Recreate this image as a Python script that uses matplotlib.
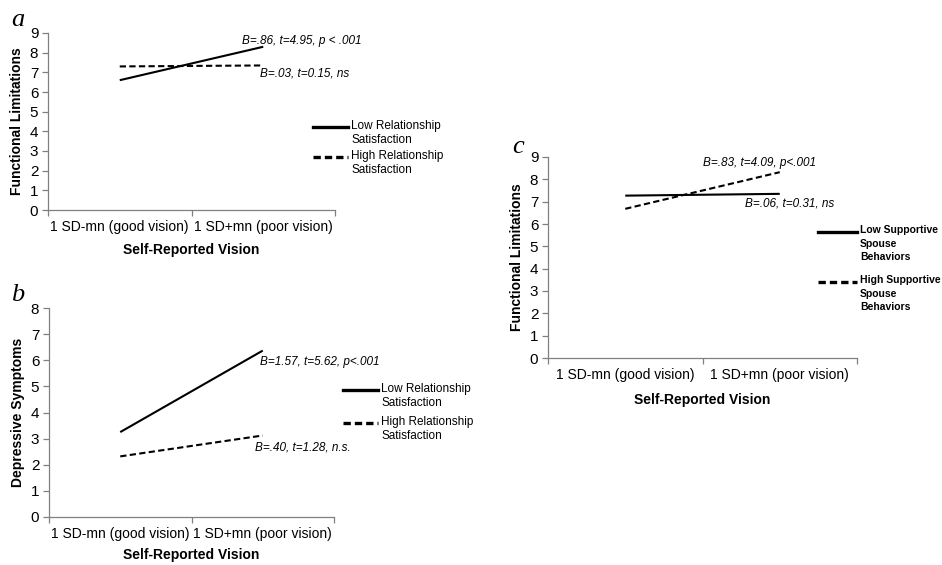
import matplotlib
matplotlib.use("Agg")
import matplotlib.pyplot as plt
from matplotlib.lines import Line2D

plt.rcParams['font.family'] = ['Liberation Sans', 'DejaVu Sans']

# shared x categories
categories = ["1 SD-mn (good vision)", "1 SD+mn (poor vision)"]
x_label = "Self-Reported Vision"

# panel a
a_low = [6.6, 8.3]
a_high = [7.3, 7.35]
a_names = ["Low Relationship\nSatisfaction", "High Relationship\nSatisfaction"]
a_notes = ["B=.86, t=4.95, p < .001", "B=.03, t=0.15, ns"]

# panel b
b_low = [3.25, 6.37]
b_high = [2.32, 3.12]
b_names = ["Low Relationship\nSatisfaction", "High Relationship\nSatisfaction"]
b_notes = ["B=1.57, t=5.62, p<.001", "B=.40, t=1.28, n.s."]

# panel c
c_low = [7.27, 7.35]
c_high = [6.68, 8.32]
c_names = ["Low Supportive\nSpouse\nBehaviors", "High Supportive\nSpouse\nBehaviors"]
c_notes = ["B=.83, t=4.09, p<.001", "B=.06, t=0.31, ns"]

W, H = 942, 565
fig = plt.figure(figsize=(W / 100, H / 100), dpi=100)
GREY = '#808080'


def ax_rect(x0, x1, ytop, ybot):
    return [x0 / W, 1 - ybot / H, (x1 - x0) / W, (ybot - ytop) / H]


def style_axes(ax, ymax, ylabel, xlab_pad):
    ax.set_xlim(0, 2)
    ax.set_ylim(0, ymax)
    for s in ['top', 'right']:
        ax.spines[s].set_visible(False)
    for s in ['left', 'bottom']:
        ax.spines[s].set_color(GREY)
        ax.spines[s].set_linewidth(0.9)
    ax.set_xticks([0, 1, 2])
    ax.set_xticklabels([])
    ax.set_xticks([0.5, 1.5], minor=True)
    ax.set_xticklabels(categories, minor=True, fontsize=10)
    ax.tick_params(axis='x', which='minor', length=0, pad=7)
    ax.tick_params(axis='x', which='major', length=4, color=GREY, width=0.9)
    ax.set_yticks(range(ymax + 1))
    ax.tick_params(axis='y', length=4, color=GREY, width=0.9, labelsize=11, pad=3)
    ax.set_ylabel(ylabel, fontsize=10, fontweight='bold', labelpad=4)
    ax.set_xlabel(x_label, fontsize=10, fontweight='bold', labelpad=xlab_pad)


def draw_lines(ax, low, high):
    xs = [0.5, 1.5]
    ax.plot(xs, low, color='black', lw=1.5, solid_capstyle='butt')
    ax.plot(xs, high, color='black', lw=1.5, dashes=(3, 1.6))


def legend(x0, x1, ys, names, weight, size=8, spacing=1.25):
    styles = [dict(), dict(dashes=(2.2, 1.2))]
    for y, name, st in zip(ys, names, styles):
        fig.add_artist(Line2D([x0 / W, x1 / W], [1 - y / H] * 2, color='black',
                              lw=2.4, transform=fig.transFigure, **st))
        fig.text((x1 + 3) / W, 1 - (y - 7) / H, name, fontsize=size,
                 fontweight=weight, va='top', ha='left', linespacing=spacing)


# ---- panel a
ax = fig.add_axes(ax_rect(48, 335, 33, 210))
style_axes(ax, 9, "Functional Limitations", 7)
draw_lines(ax, a_low, a_high)
fig.text(242 / W, 1 - 41 / H, a_notes[0], fontsize=8.5, style='italic', va='center')
fig.text(260 / W, 1 - 73 / H, a_notes[1], fontsize=8.5, style='italic', va='center')
legend(313, 348, [127, 157], a_names, 'normal', 8.5)
fig.text(11 / W, 1 - 20 / H, "a", fontsize=19, style='italic',
         family='Liberation Serif', va='center')

# ---- panel b
ax = fig.add_axes(ax_rect(49, 334, 308, 517))
style_axes(ax, 8, "Depressive Symptoms", 5)
draw_lines(ax, b_low, b_high)
fig.text(260 / W, 1 - 362 / H, b_notes[0], fontsize=8.5, style='italic', va='center')
fig.text(255 / W, 1 - 448 / H, b_notes[1], fontsize=8.5, style='italic', va='center')
legend(343, 378, [390, 423], b_names, 'normal', 8.5)
fig.text(11 / W, 1 - 295 / H, "b", fontsize=19, style='italic',
         family='Liberation Serif', va='center')

# ---- panel c
ax = fig.add_axes(ax_rect(548, 857, 157, 358))
style_axes(ax, 9, "Functional Limitations", 8)
draw_lines(ax, c_low, c_high)
fig.text(703 / W, 1 - 163 / H, c_notes[0], fontsize=8.5, style='italic', va='center')
fig.text(745 / W, 1 - 203 / H, c_notes[1], fontsize=8.5, style='italic', va='center')
legend(818, 857, [232, 282], c_names, 'bold', 7.5, 1.45)
fig.text(512 / W, 1 - 147 / H, "c", fontsize=19, style='italic',
         family='Liberation Serif', va='center')

fig.savefig("out.png", dpi=100, facecolor='white')
